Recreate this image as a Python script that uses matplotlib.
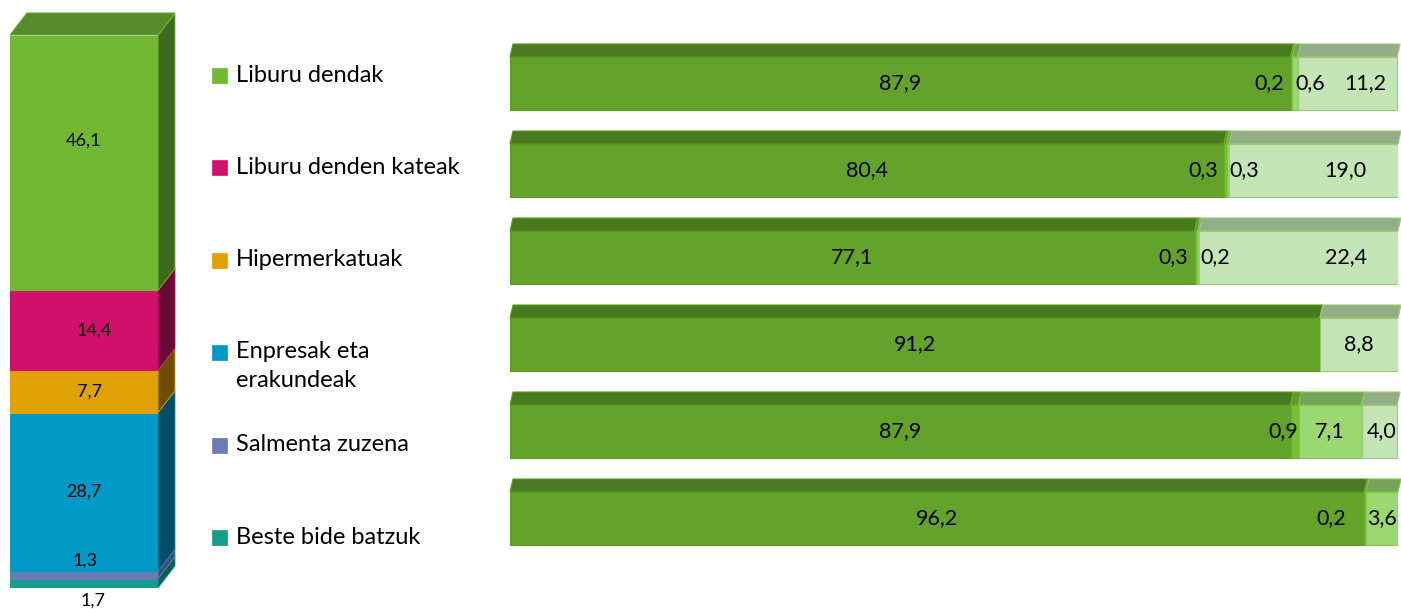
import matplotlib.pyplot as plt
from matplotlib.patches import Polygon, Rectangle

plt.rcParams['font.family'] = ['Lato', 'DejaVu Sans']

# ezkerreko zutabea (salmenta bideak, %)
kanalak = ['Liburu dendak', 'Liburu denden kateak', 'Hipermerkatuak',
           'Enpresak eta\nerakundeak', 'Salmenta zuzena', 'Beste bide batzuk']
kanal_balioak = [46.1, 14.4, 7.7, 28.7, 1.3, 1.7]
kanal_koloreak = ['#72B833', '#D0106A', '#E0A107', '#0099C6', '#6A7CB5', '#169E8C']
kanal_albo = ['#3D6B1E', '#6A0A36', '#6E4D06', '#004E66', '#3E4A78', '#0B5E53']

# eskuineko barrak: lau atal kanal bakoitzeko
atala1 = [87.9, 80.4, 77.1, 91.2, 87.9, 96.2]
atala2 = [0.2, 0.3, 0.3, 0.0, 0.9, 0.2]
atala3 = [0.6, 0.3, 0.2, 0.0, 7.1, 3.6]
atala4 = [11.2, 19.0, 22.4, 8.8, 4.0, 0.0]

fig = plt.figure(figsize=(14.01, 6.09), dpi=100)
W, H = 1401, 609

def fmt(v):
    return ('%.1f' % v).replace('.', ',')

# ---------------- ezkerreko zutabea ----------------
axl = fig.add_axes([10 / W, 1 - 588 / H, 148 / W, 553 / H])
axl.set_xlim(-0.5, 0.5)
axl.set_ylim(0, 100)
axl.axis('off')
dxl = 17 / 148
dyl = 22 / 553 * 100

# behetik gora: beste, salmenta, enpresak, hiper, kateak, dendak
order = [5, 4, 3, 2, 1, 0]
bottom = 0
for i in order:
    v = kanal_balioak[i]
    axl.bar(0, v, width=1, bottom=bottom, color=kanal_koloreak[i],
            edgecolor=kanal_koloreak[i], linewidth=0.8, zorder=2)
    side = Polygon([(0.5, bottom), (0.5, bottom + v), (0.5 + dxl, bottom + v + dyl),
                    (0.5 + dxl, bottom + dyl)], closed=True,
                   facecolor=kanal_albo[i], edgecolor=kanal_koloreak[i],
                   linewidth=0.6, clip_on=False, zorder=1)
    axl.add_patch(side)
    bottom += v
top = Polygon([(-0.5, 100), (0.5, 100), (0.5 + dxl, 100 + dyl), (-0.5 + dxl, 100 + dyl)],
              closed=True, facecolor='#558B2B', edgecolor='#6BA82E', linewidth=0.8,
              clip_on=False, zorder=1)
axl.add_patch(top)

# etiketak
lab_nudge = {0: (0, 4.0), 1: (0.07, 0), 2: (0.04, 0), 3: (0, 0), 4: (0.01, 0), 5: (0.06, 0)}
bottom = 0
for i in order:
    v = kanal_balioak[i]
    x = lab_nudge[i][0]
    y = bottom + v / 2 + lab_nudge[i][1]
    if i == 4:
        y = bottom + v + 2.0
    if i == 5:
        y = bottom - 2.2
    axl.text(x, y, fmt(v), ha='center', va='center', fontsize=13, color='black',
             clip_on=False, zorder=5)
    bottom += v

# ---------------- legenda ----------------
for k, name in enumerate(kanalak):
    ypx = 75 + 92.4 * k
    fig.patches.append(Rectangle((212 / W, 1 - (ypx + 8) / H), 15 / W, 15 / H,
                                 transform=fig.transFigure, facecolor=kanal_koloreak[k],
                                 edgecolor=kanal_koloreak[k], linewidth=0.5))
    if '\n' in name:
        fig.text(236 / W, 1 - (ypx - 11) / H, name, ha='left', va='top',
                 fontsize=17, color='black', linespacing=1.45)
    else:
        fig.text(236 / W, 1 - ypx / H, name, ha='left', va='center',
                 fontsize=17, color='black')

# ---------------- eskuineko barrak ----------------
axr = fig.add_axes([510 / W, 1 - 562 / H, 888 / W, 522 / H])
axr.set_xlim(0, 100)
axr.set_ylim(5.5, -0.5)
axr.axis('off')
dxr = 3 / 888 * 100
dyr = 13 / 87
bh = 53 / 87

atalak = [atala1, atala2, atala3, atala4]
front_c = ['#63A22B', '#77C034', '#9BD872', '#C4E6B6']
top_c = ['#4A7A20', '#5E9A2A', '#74A35A', '#93AD88']
edge_c = ['#5E9A1E', '#6DB02C', '#86C450', '#9CCB6E']

rows = range(len(atala1))
for r in rows:
    left = 0
    for s, seg in enumerate(atalak):
        w = seg[r]
        if w <= 0:
            continue
        axr.barh(r, w, height=bh, left=left, color=front_c[s], edgecolor=edge_c[s],
                 linewidth=0.8, zorder=2)
        yt = r - bh / 2
        tp = Polygon([(left, yt), (left + w, yt), (left + w + dxr, yt - dyr),
                      (left + dxr, yt - dyr)], closed=True, facecolor=top_c[s],
                     edgecolor=edge_c[s], linewidth=0.8, clip_on=False, zorder=1)
        axr.add_patch(tp)
        left += w

# balio etiketak (Excel-en kokapena imitatuz)
for r in rows:
    left = 0
    for s, seg in enumerate(atalak):
        w = seg[r]
        if w <= 0:
            continue
        cx, ha = left + w / 2, 'center'
        if s == 1:
            cx, ha = left - 0.7, 'right'
            if r == 4:
                cx = left + w
            if r == 5:
                cx = left - 2.1
        elif s == 2 and w < 2:
            cx, ha = left + 0.3, 'left'
        elif s == 3 and r in (0, 1, 2):
            cx = left + w / 2 + [2.0, 3.6, 5.4][r]
        elif s == 3 and r == 4:
            cx = left + w / 2 + 0.2
        axr.text(cx, r, fmt(w), ha=ha, va='center', fontsize=15.5, color='black',
                 clip_on=False, zorder=5)
        left += w

fig.savefig('out.png', dpi=100)
